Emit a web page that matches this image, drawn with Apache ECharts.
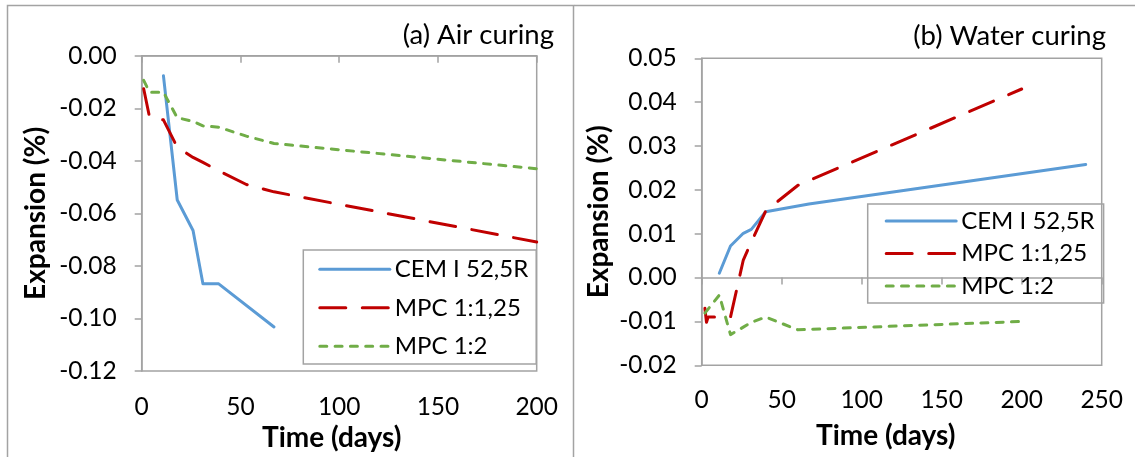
<!DOCTYPE html>
<html>
<head>
<meta charset="utf-8">
<script src="https://cdn.jsdelivr.net/npm/echarts@6/dist/echarts.min.js"></script>
<style>
  html, body { margin: 0; padding: 0; background: #fff; }
  #main { width: 1135px; height: 457px; }
</style>
</head>
<body>
<div id="main"></div>
<script>
const seriesNames = ['CEM I 52,5R', 'MPC 1:1,25', 'MPC 1:2']
const panelTitles = ['(a) Air curing', '(b) Water curing']

// [time (days), expansion (%)]
const airCem = [[11, -0.0076], [18, -0.0549], [26, -0.0665], [31, -0.0868], [39, -0.0868], [67, -0.1032]]
const airMpc125 = [[1, -0.0126], [4, -0.0235], [11, -0.0244], [18, -0.0348], [26, -0.0387], [31, -0.0406],
  [39, -0.0438], [53, -0.0490], [67, -0.0518], [200, -0.0709]]
const airMpc2 = [[1, -0.0094], [4, -0.0139], [11, -0.0139], [18, -0.0236], [26, -0.0250], [31, -0.0267],
  [39, -0.0272], [53, -0.0306], [67, -0.0334], [200, -0.0430]]

const waterCem = [[11, 0.0010], [18, 0.0072], [26, 0.0101], [31, 0.0110], [40, 0.0150], [67, 0.0168], [240, 0.0258]]
const waterMpc125 = [[2, -0.0070], [3, -0.0102], [4, -0.0090], [11, -0.0090], [18, -0.0090], [26, 0.0040],
  [31, 0.0081], [40, 0.0152], [60, 0.0210], [200, 0.0430]]
const waterMpc2 = [[2, -0.0081], [11, -0.0040], [18, -0.0130], [26, -0.0113], [31, -0.0102], [40, -0.0090],
  [60, -0.0119], [200, -0.0100]]

// axis ranges: [min, max, interval]
const airX = [0, 200, 50]
const airY = [-0.12, 0, 0.02]
const waterX = [0, 250, 50]
const waterY = [-0.02, 0.05, 0.01]

const font = 'Lato'
const axisColor = '#a3a3a3'
const lineStyles = [
  { color: '#5b9bd5', width: 3, type: 'solid', cap: 'round', join: 'round' },
  { color: '#c00000', width: 3, type: [26, 16.5], cap: 'round', join: 'round' },
  { color: '#70ad47', width: 3, type: [7, 8.3], cap: 'round', join: 'round' }
]

function makeSeries (data, i, panel) {
  return {
    name: seriesNames[i],
    type: 'line',
    xAxisIndex: panel * 2,
    yAxisIndex: panel,
    data: data,
    symbol: 'none',
    lineStyle: lineStyles[i],
    itemStyle: { color: lineStyles[i].color },
    animation: false
  }
}

function mainX (panel, range, margin, nameGap, namePad) {
  return {
    type: 'value',
    gridIndex: panel,
    position: 'bottom',
    min: range[0],
    max: range[1],
    interval: range[2],
    axisLine: { show: false, onZero: false },
    axisTick: { show: false },
    splitLine: { show: false },
    axisLabel: { margin: margin, fontSize: 24.5, fontFamily: font, color: '#000' },
    name: 'Time (days)',
    nameLocation: 'middle',
    nameGap: nameGap,
    nameTextStyle: { fontSize: 28, fontWeight: 'bold', fontFamily: font, color: '#000', padding: [0, namePad, 0, 0] }
  }
}

// second x axis: the gray line at y = 0 carrying the tick marks
function zeroX (panel, range) {
  return {
    type: 'value',
    gridIndex: panel,
    position: 'top',
    min: range[0],
    max: range[1],
    interval: range[2],
    axisLine: { show: true, onZero: true, lineStyle: { color: axisColor, width: 1.5 } },
    axisTick: { show: true, inside: true, length: 7, lineStyle: { color: axisColor, width: 1.5 } },
    axisLabel: { show: false },
    splitLine: { show: false }
  }
}

function yAx (panel, range, nameGap) {
  return {
    type: 'value',
    gridIndex: panel,
    min: range[0],
    max: range[1],
    interval: range[2],
    axisLine: { show: true, onZero: false, lineStyle: { color: axisColor, width: 1.5 } },
    axisTick: { show: true, length: 7, lineStyle: { color: axisColor, width: 1.5 } },
    splitLine: { show: false },
    axisLabel: {
      margin: 25,
      fontSize: 24.5,
      fontFamily: font,
      color: '#000',
      formatter: v => (Math.abs(v) < 1e-9 ? 0 : v).toFixed(2)
    },
    name: 'Expansion (%)',
    nameLocation: 'middle',
    nameGap: nameGap,
    nameRotate: 90,
    nameTextStyle: { fontSize: 28, fontWeight: 'bold', fontFamily: font, color: '#000' }
  }
}

function legendAt (left, top, padding, gap) {
  return {
    orient: 'vertical',
    left: left,
    top: top,
    data: seriesNames,
    selectedMode: false,
    itemWidth: 70,
    itemHeight: 14,
    itemGap: gap,
    padding: padding,
    borderColor: axisColor,
    borderWidth: 1.5,
    itemStyle: { opacity: 0 },
    lineStyle: { width: 3, type: 'inherit', cap: 'round' },
    textStyle: { fontSize: 24, lineHeight: 28, fontFamily: font, color: '#000' }
  }
}

const chart = echarts.init(document.getElementById('main'))
const option = {
  backgroundColor: '#fff',
  animation: false,
  title: [
    { text: panelTitles[0], right: 581, top: 21, padding: 0,
      textStyle: { fontSize: 27.5, fontWeight: 'normal', fontFamily: font, color: '#000' } },
    { text: panelTitles[1], right: 29, top: 22, padding: 0,
      textStyle: { fontSize: 27.5, fontWeight: 'normal', fontFamily: font, color: '#000' } }
  ],
  grid: [
    { left: 141.7, top: 55.7, width: 395, height: 319.2, show: true, borderColor: axisColor, borderWidth: 1.5 },
    { left: 701.7, top: 58.3, width: 400, height: 307, show: true, borderColor: axisColor, borderWidth: 1.5 }
  ],
  legend: [
    legendAt(303.3, 250, [5.3, 8, 3.7, 15], 10.5),
    legendAt(867.7, 204, [3, 9, 3, 17], 4.5)
  ],
  xAxis: [
    mainX(0, airX, 23, 49, 15), zeroX(0, airX),
    mainX(1, waterX, 22, 57, 32), zeroX(1, waterX)
  ],
  yAxis: [yAx(0, airY, 91.5), yAx(1, waterY, 89)],
  series: [
    makeSeries(airCem, 0, 0), makeSeries(airMpc125, 1, 0), makeSeries(airMpc2, 2, 0),
    makeSeries(waterCem, 0, 1), makeSeries(waterMpc125, 1, 1), makeSeries(waterMpc2, 2, 1)
  ],
  graphic: [
    { type: 'rect', shape: { x: 7.5, y: 5.5, width: 566, height: 470 }, style: { fill: null, stroke: axisColor, lineWidth: 1.5 }, silent: true },
    { type: 'line', shape: { x1: 574, y1: 5.5, x2: 1135, y2: 5.5 }, style: { stroke: axisColor, lineWidth: 1.5 }, silent: true }
  ]
}
chart.setOption(option)
</script>
</body>
</html>
